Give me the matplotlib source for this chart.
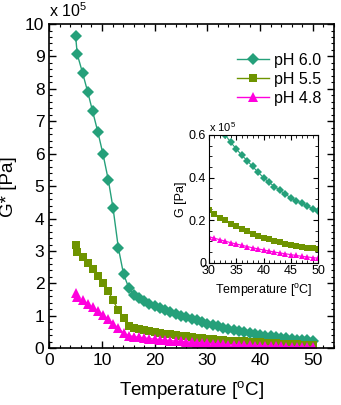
import numpy as np
import matplotlib
matplotlib.use("Agg")
import matplotlib.pyplot as plt
from matplotlib.ticker import MultipleLocator

plt.rcParams['font.family'] = ['Liberation Sans', 'DejaVu Sans']

# --- data (G* in units of 1e5 Pa) ---
temp_low = [5.0, 5.3, 6.3, 7.3, 8.2, 9.2, 10.2, 11.2, 12.1, 13.1, 14.1, 15.1]
temp_high = list(range(16, 51))

ph60_low = [9.62, 9.07, 8.50, 7.90, 7.32, 6.68, 5.98, 5.19, 4.32, 3.10, 2.28, 1.86]
ph55_low = [3.20, 2.96, 2.81, 2.63, 2.43, 2.22, 2.01, 1.76, 1.48, 1.17, 0.92, 0.70]
ph48_low = [1.70, 1.57, 1.49, 1.37, 1.26, 1.16, 1.03, 0.89, 0.75, 0.62, 0.46, 0.39]

ph60_high = [1.65, 1.54, 1.45, 1.37, 1.30, 1.23, 1.17, 1.11, 1.06, 1.01, 0.96, 0.91,
             0.86, 0.81, 0.76, 0.72, 0.68, 0.64, 0.60, 0.57, 0.53, 0.50, 0.47, 0.44,
             0.41, 0.39, 0.37, 0.35, 0.33, 0.31, 0.29, 0.27, 0.26, 0.245, 0.235]
ph55_high = [0.64, 0.60, 0.56, 0.53, 0.50, 0.47, 0.45, 0.43, 0.41, 0.39, 0.37, 0.35,
             0.33, 0.315, 0.30, 0.285, 0.27, 0.255, 0.24, 0.23, 0.22, 0.21, 0.20, 0.19,
             0.18, 0.17, 0.16, 0.15, 0.14, 0.135, 0.13, 0.12, 0.115, 0.11, 0.105]
ph48_high = [0.36, 0.34, 0.32, 0.30, 0.28, 0.265, 0.25, 0.235, 0.22, 0.21, 0.20, 0.19,
             0.175, 0.165, 0.155, 0.145, 0.135, 0.125, 0.115, 0.11, 0.10, 0.095, 0.09, 0.085,
             0.08, 0.075, 0.07, 0.065, 0.06, 0.055, 0.05, 0.045, 0.04, 0.037, 0.035]

# inset (G, 30-50 C)
inset_temp = list(range(30, 51))
inset_ph60 = [0.70, 0.665, 0.63, 0.60, 0.565, 0.535, 0.505, 0.48, 0.452, 0.425, 0.40,
              0.378, 0.358, 0.34, 0.322, 0.305, 0.292, 0.279, 0.266, 0.254, 0.243]
inset_ph55 = [0.249, 0.23, 0.211, 0.199, 0.183, 0.171, 0.16, 0.149, 0.137, 0.127, 0.118,
              0.110, 0.101, 0.095, 0.087, 0.082, 0.078, 0.073, 0.070, 0.067, 0.065]
inset_ph48 = [0.122, 0.115, 0.108, 0.101, 0.094, 0.088, 0.082, 0.076, 0.070, 0.065, 0.060,
              0.055, 0.050, 0.046, 0.042, 0.038, 0.034, 0.030, 0.027, 0.024, 0.021]

labels = ["pH 6.0", "pH 5.5", "pH 4.8"]
colors = ["#25a07a", "#6e9400", "#ff00dd"]
markers = ["D", "s", "^"]
msizes = [6, 6, 6.5]

temp_all = temp_low + temp_high
main_series = [ph60_low + ph60_high, ph55_low + ph55_high, ph48_low + ph48_high]
inset_series = [inset_ph60, inset_ph55, inset_ph48]

fig = plt.figure(figsize=(3.41, 4.05), dpi=100)
ax = fig.add_axes([0.1446, 0.140, 0.979 - 0.1446, 0.9407 - 0.140])

for vals, lab, c, m, ms in zip(main_series, labels, colors, markers, msizes):
    ax.plot(temp_all, vals, color=c, marker=m, markersize=ms,
            linewidth=1, label=lab, markeredgewidth=0)

ax.set_xlim(0, 54)
ax.set_ylim(0, 10)
ax.xaxis.set_major_locator(MultipleLocator(10))
ax.xaxis.set_minor_locator(MultipleLocator(2))
ax.yaxis.set_major_locator(MultipleLocator(1))
ax.yaxis.set_minor_locator(MultipleLocator(0.2))
ax.tick_params(which="both", direction="in", top=True, right=True, labelsize=12.5)
ax.tick_params(which="major", length=5, width=1)
ax.tick_params(which="minor", length=2.5, width=0.8)
for s in ax.spines.values():
    s.set_linewidth(1.2)
ax.set_xlabel("Temperature [$\\mathregular{^o}$C]", fontsize=13.5, labelpad=8)
ax.set_ylabel("G* [Pa]", fontsize=13.5, labelpad=6)
ax.text(0.0, 1.012, "x 10$\\mathregular{^5}$", transform=ax.transAxes, fontsize=11.5,
        ha="left", va="bottom")

leg = ax.legend(loc="upper right", bbox_to_anchor=(0.99, 0.94), frameon=False,
                fontsize=11.5, handlelength=2.0, handletextpad=0.3, labelspacing=0.25,
                borderaxespad=0.2)

# inset
ins = fig.add_axes([209 / 341, 1 - 262.7 / 405, 109 / 341, 127.7 / 405])
for vals, c, m in zip(inset_series, colors, markers):
    ins.plot(inset_temp, vals, color=c, marker=m, markersize=4.5, linewidth=0.8,
             markeredgewidth=0)
ins.set_xlim(30, 50)
ins.set_ylim(0, 0.6)
ins.xaxis.set_major_locator(MultipleLocator(5))
ins.xaxis.set_minor_locator(MultipleLocator(1))
ins.yaxis.set_minor_locator(MultipleLocator(0.05))
ins.set_yticks([0, 0.2, 0.4, 0.6])
ins.set_yticklabels(["0", "0.2", "0.4", "0.6"])
ins.tick_params(which="both", direction="in", top=True, right=True, labelsize=9, pad=2)
ins.tick_params(which="major", length=3.5)
ins.tick_params(which="minor", length=2)
ins.set_xlabel("Temperature [$\\mathregular{^o}$C]", fontsize=9, labelpad=3)
ins.set_ylabel("G [Pa]", fontsize=9, labelpad=1)
ins.text(0.0, 1.01, "x 10$\\mathregular{^5}$", transform=ins.transAxes, fontsize=8,
         ha="left", va="bottom")

fig.savefig("out.png", dpi=100)
